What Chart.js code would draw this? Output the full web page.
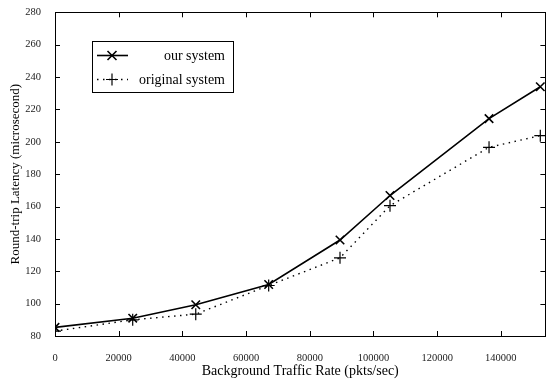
<!DOCTYPE html>
<html>
<head>
<meta charset="utf-8">
<script src="https://cdn.jsdelivr.net/npm/chart.js@4.4.1/dist/chart.umd.min.js"></script>
<style>
    html, body { margin: 0; padding: 0; background: #ffffff; }
    #wrap { width: 553px; height: 383px; position: relative; }
</style>
</head>
<body>
<div id="wrap"><canvas id="latencyChart"></canvas></div>
<script>
// traffic rates (pkts/sec)
const rates = [0, 24400, 44200, 67100, 89500, 105200, 136300, 152400];
// latencies (microsecond)
const ourSystem = [85.3, 91, 99.3, 111.8, 139.3, 166.8, 214.3, 234];
const originalSystem = [83, 90, 93.5, 111.2, 128.3, 160.5, 196.6, 203.8];
const xTicks = [0, 20000, 40000, 60000, 80000, 100000, 120000, 140000];
const yTicks = [80, 100, 120, 140, 160, 180, 200, 220, 240, 260, 280];

const serif = '"Liberation Serif", "DejaVu Serif", serif';

function toPoints(values) {
    return rates.map((r, i) => ({ x: r, y: values[i] }));
}

// frame, inward tick marks and boxed legend like the original gnuplot figure
const framePlugin = {
    id: 'frame',
    afterDraw(chart) {
        const ctx = chart.ctx;
        const a = chart.chartArea;
        const xs = chart.scales.x;
        const ys = chart.scales.y;
        const len = 5;
        ctx.save();
        ctx.strokeStyle = '#000';
        ctx.lineWidth = 1;
        ctx.strokeRect(Math.round(a.left) + 0.5, Math.round(a.top) + 0.5,
            Math.round(a.right - a.left), Math.round(a.bottom - a.top));
        ctx.beginPath();
        xTicks.forEach(v => {
            const px = Math.round(xs.getPixelForValue(v)) + 0.5;
            ctx.moveTo(px, a.bottom); ctx.lineTo(px, a.bottom - len);
            ctx.moveTo(px, a.top); ctx.lineTo(px, a.top + len);
        });
        yTicks.forEach(v => {
            const py = Math.round(ys.getPixelForValue(v)) + 0.5;
            ctx.moveTo(a.left, py); ctx.lineTo(a.left + len, py);
            ctx.moveTo(a.right, py); ctx.lineTo(a.right - len, py);
        });
        ctx.stroke();

        // legend box
        const bx = 92, by = 41, bw = 141, bh = 51;
        ctx.strokeRect(bx + 0.5, by + 0.5, bw, bh);
        ctx.font = '14px ' + serif;
        ctx.textAlign = 'right';
        ctx.textBaseline = 'middle';
        ctx.fillStyle = '#000';
        const rows = [55, 79];
        chart.data.datasets.forEach((ds, i) => {
            const y = rows[i] + 0.5;
            ctx.save();
            ctx.lineWidth = ds.borderWidth;
            ctx.setLineDash(ds.borderDash || []);
            ctx.beginPath();
            ctx.moveTo(97, y); ctx.lineTo(128, y);
            ctx.stroke();
            ctx.restore();
            // marker
            ctx.save();
            ctx.lineWidth = ds.pointBorderWidth;
            ctx.beginPath();
            const r = 6;
            if (ds.pointStyle === 'crossRot') {
                const d = r * 0.75;
                ctx.moveTo(112 - d, y - d); ctx.lineTo(112 + d, y + d);
                ctx.moveTo(112 - d, y + d); ctx.lineTo(112 + d, y - d);
            } else {
                ctx.moveTo(112 - r, y); ctx.lineTo(112 + r, y);
                ctx.moveTo(112, y - r); ctx.lineTo(112, y + r);
            }
            ctx.stroke();
            ctx.restore();
            ctx.fillText(ds.label, 225, rows[i] + 1);
        });
        ctx.restore();
    }
};

new Chart(document.getElementById('latencyChart'), {
    type: 'line',
    data: {
        datasets: [{
            label: 'our system',
            data: toPoints(ourSystem),
            borderColor: '#000',
            borderWidth: 1.6,
            pointStyle: 'crossRot',
            pointRadius: 6,
            pointBorderWidth: 1.6,
            pointBorderColor: '#000',
            pointBackgroundColor: '#000',
            tension: 0
        }, {
            label: 'original system',
            data: toPoints(originalSystem),
            borderColor: '#000',
            borderWidth: 1.4,
            borderDash: [1.5, 4.5],
            pointStyle: 'cross',
            pointRadius: 6,
            pointBorderWidth: 1.2,
            pointBorderColor: '#000',
            pointBackgroundColor: '#000',
            tension: 0
        }]
    },
    options: {
        responsive: true,
        maintainAspectRatio: false,
        animation: false,
        layout: { padding: { top: 5, right: 5, left: 0, bottom: 0 } },
        plugins: {
            legend: { display: false },
            tooltip: { enabled: false }
        },
        scales: {
            x: {
                type: 'linear',
                min: 0,
                max: 154000,
                afterBuildTicks(scale) {
                    scale.ticks = xTicks.map(v => ({ value: v }));
                },
                afterFit(scale) { scale.height = 47; },
                grid: { display: false },
                border: { display: false },
                ticks: {
                    color: '#222',
                    padding: 8,
                    maxRotation: 0,
                    font: { family: serif, size: 10.5 },
                    callback: v => String(v)
                },
                title: {
                    display: true,
                    text: 'Background Traffic Rate (pkts/sec)',
                    color: '#000',
                    padding: { top: 0, bottom: 3 },
                    font: { family: serif, size: 14 }
                }
            },
            y: {
                min: 80,
                max: 280,
                afterBuildTicks(scale) {
                    scale.ticks = yTicks.map(v => ({ value: v }));
                },
                afterFit(scale) { scale.width = 55; },
                grid: { display: false },
                border: { display: false },
                ticks: {
                    color: '#222',
                    padding: 6,
                    font: { family: serif, size: 10.5 }
                },
                title: {
                    display: true,
                    text: 'Round-trip Latency (microsecond)',
                    color: '#000',
                    padding: { top: 8, bottom: 0 },
                    font: { family: serif, size: 13 }
                }
            }
        }
    },
    plugins: [framePlugin]
});
</script>
</body>
</html>
